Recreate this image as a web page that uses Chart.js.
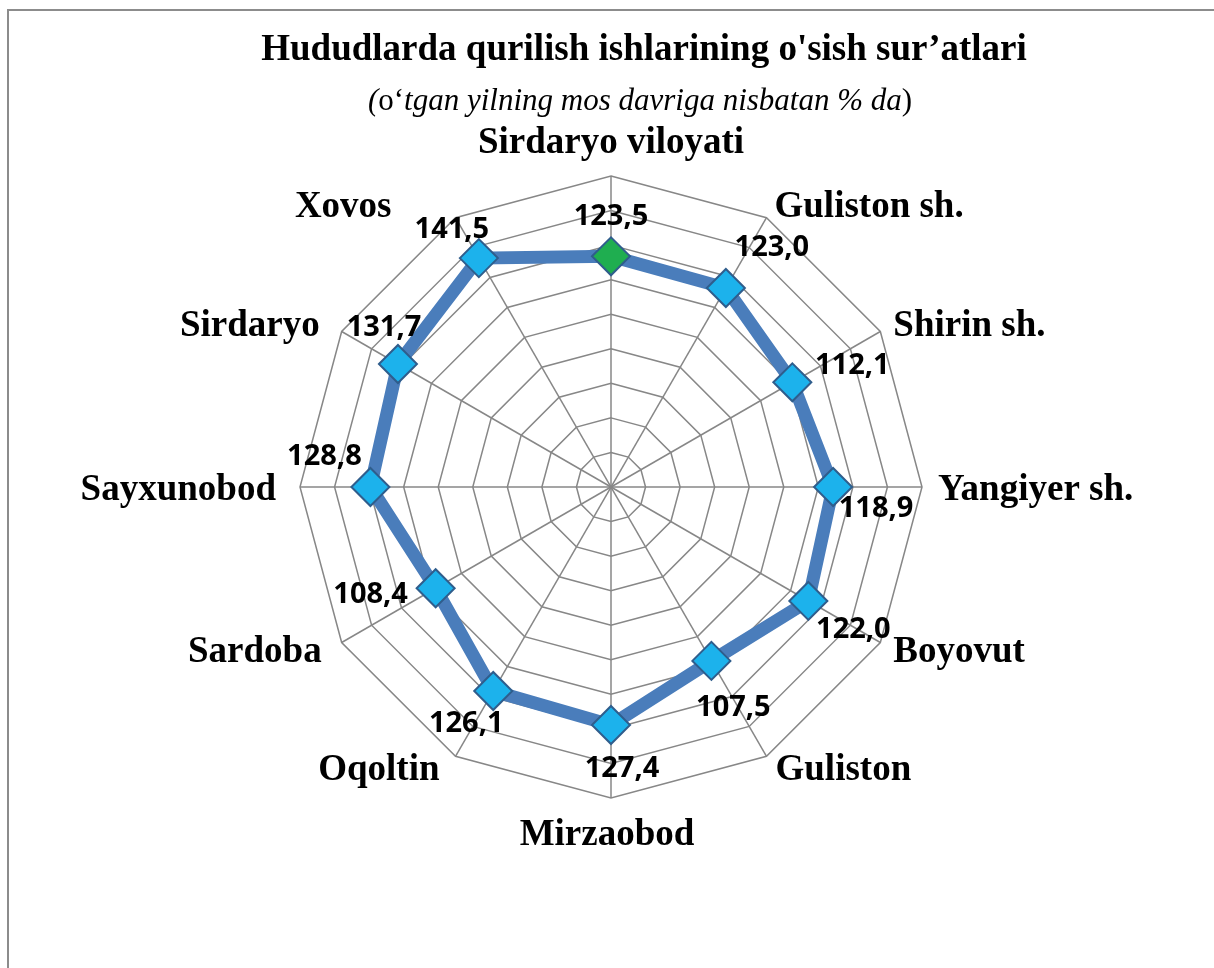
<!DOCTYPE html>
<html>
<head>
<meta charset="utf-8">
<title>Hududlarda qurilish ishlarining o'sish sur’atlari</title>
<script src="https://cdn.jsdelivr.net/npm/chart.js@4.4.1/dist/chart.umd.min.js"></script>
<style>
  html, body { margin: 0; padding: 0; background: #fff; overflow: hidden; }
  #chart { display: block; }
</style>
</head>
<body>
<canvas id="chart" width="1214" height="968"></canvas>
<script>
const regions = ['Sirdaryo viloyati', 'Guliston sh.', 'Shirin sh.', 'Yangiyer sh.', 'Boyovut', 'Guliston',
                 'Mirzaobod', 'Oqoltin', 'Sardoba', 'Sayxunobod', 'Sirdaryo', 'Xovos'];
const growth = [123.5, 123.0, 112.1, 118.9, 122.0, 107.5, 127.4, 126.1, 108.4, 128.8, 131.7, 141.5];

const titleText = "Hududlarda qurilish ishlarining o'sish sur’atlari";
// subtitle is mixed: the "o‘" and closing bracket are upright, the rest italic
const subtitleParts = [['(', true], ['o‘', false], ['tgan yilning mos davriga nisbatan % da', true], [')', false]];

// offset of each region name from the outer tip of its spoke
const nameNudge = [[0, -33], [8, -10], [13, -5], [16, 3], [13, 10], [9, 14],
                   [-4, 37], [-16, 14], [-20, 10], [-24, 3], [-22, -5], [-64, -10]];
// offset of each value label from its marker
const valueNudge = [[0, -40], [46, -40], [60, -17], [43, 22], [45, 29], [22, 47],
                    [11, 44], [-27, 33], [-65, 6], [-46, -30], [-14, -36], [-27, -28]];

const SERIF = '"Liberation Serif", "Times New Roman", serif';

function fmt(v) {
    return v.toFixed(1).replace('.', ',');
}

const annotate = {
    id: 'annotate',
    beforeDraw(chart) {
        const ctx = chart.ctx;
        ctx.save();
        // frame of the original picture (only left and top edges are visible)
        ctx.strokeStyle = '#8c8c8c';
        ctx.lineWidth = 2;
        ctx.strokeRect(8, 10, 1400, 1200);

        ctx.fillStyle = '#000';
        ctx.textBaseline = 'middle';
        ctx.textAlign = 'center';
        ctx.font = 'bold 37px ' + SERIF;
        ctx.fillText(titleText, 644, 50);

        // subtitle, measured piece by piece so it stays centred
        const fonts = subtitleParts.map(p => (p[1] ? 'italic ' : '') + '31px ' + SERIF);
        let total = 0;
        const widths = subtitleParts.map((p, i) => {
            ctx.font = fonts[i];
            const w = ctx.measureText(p[0]).width;
            total += w;
            return w;
        });
        let x = 640 - total / 2;
        ctx.textAlign = 'left';
        subtitleParts.forEach((p, i) => {
            ctx.font = fonts[i];
            ctx.fillText(p[0], x, 102);
            x += widths[i];
        });
        ctx.restore();
    },
    afterDatasetsDraw(chart) {
        const ctx = chart.ctx;
        const scale = chart.scales.r;
        const meta = chart.getDatasetMeta(0);
        ctx.save();
        ctx.fillStyle = '#000';
        ctx.textBaseline = 'middle';

        // region names round the web
        ctx.font = 'bold 37px ' + SERIF;
        regions.forEach((name, i) => {
            const p = scale.getPointPosition(i, scale.drawingArea);
            const dx = p.x - scale.xCenter;
            ctx.textAlign = Math.abs(dx) < 1 ? 'center' : (dx > 0 ? 'left' : 'right');
            ctx.fillText(name, p.x + nameNudge[i][0], p.y + nameNudge[i][1]);
        });

        // value labels next to the markers
        ctx.font = 'bold 29px "Open Sans", "DejaVu Sans", sans-serif';
        ctx.textAlign = 'center';
        meta.data.forEach((pt, i) => {
            ctx.fillText(fmt(growth[i]), pt.x + valueNudge[i][0], pt.y + valueNudge[i][1]);
        });
        ctx.restore();
    }
};

const markerFill = growth.map((v, i) => i === 0 ? '#1fae50' : '#1cb2ec');

new Chart(document.getElementById('chart'), {
    type: 'radar',
    data: {
        labels: regions,
        datasets: [{
            label: "O'sish sur'ati",
            data: growth,
            borderColor: '#4a7dbb',
            borderWidth: 13,
            borderJoinStyle: 'miter',
            fill: false,
            pointStyle: 'rectRot',
            pointRadius: 19,
            pointHoverRadius: 19,
            pointBackgroundColor: markerFill,
            pointBorderColor: '#2f5d8c',
            pointBorderWidth: 2
        }]
    },
    options: {
        responsive: false,
        devicePixelRatio: 1,
        animation: false,
        layout: {
            padding: { left: 300, right: 292, top: 176, bottom: 170 }
        },
        plugins: {
            legend: { display: false },
            title: { display: false },
            tooltip: { enabled: false }
        },
        scales: {
            r: {
                min: 0,
                max: 166.5,
                ticks: { display: false, stepSize: 18.5 },
                grid: { color: '#878787', lineWidth: 1.5 },
                angleLines: { color: '#878787', lineWidth: 1.5 },
                pointLabels: { display: false }
            }
        }
    },
    plugins: [annotate]
});
</script>
</body>
</html>
